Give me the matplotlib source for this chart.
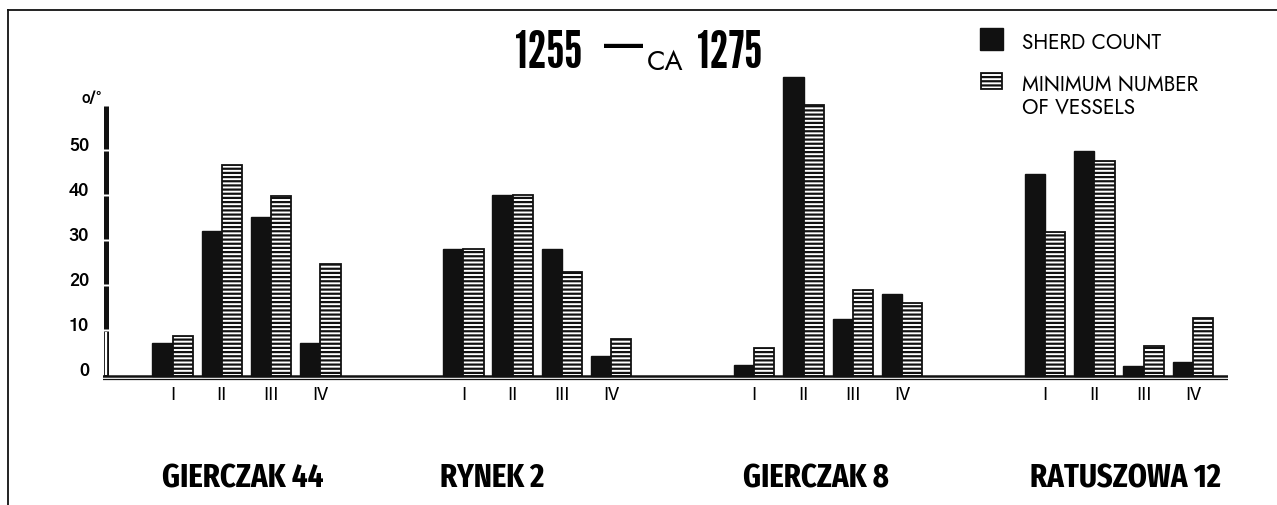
import matplotlib
matplotlib.use("Agg")
import matplotlib.pyplot as plt
import numpy as np
from matplotlib.lines import Line2D
from matplotlib.patches import Rectangle
from matplotlib.transforms import ScaledTranslation

# ---------------- data ----------------
sites = ["GIERCZAK 44", "RYNEK 2", "GIERCZAK 8", "RATUSZOWA 12"]
phases = ["I", "II", "III", "IV"]
# percentages, per site in the order of `phases`
sherd_count = [7.3, 32.3, 35.3, 7.3,      # Gierczak 44
               28.3, 40.3, 28.3, 4.4,     # Rynek 2
               2.4, 66.5, 12.6, 18.2,     # Gierczak 8
               45.0, 50.1, 2.2, 3.1]      # Ratuszowa 12
min_vessels = [9.0, 46.8, 40.1, 25.0,
               28.2, 40.3, 23.1, 8.3,
               6.2, 60.3, 19.1, 16.3,
               32.1, 47.8, 6.7, 12.8]
y_ticks = [0, 10, 20, 30, 40, 50]
title_from, title_ca, title_to = "1255", "CA", "1275"
legend_labels = ["SHERD COUNT", "MINIMUM NUMBER\nOF VESSELS"]
percent_sign = "o/°"

# ---------------- fonts ----------------
COND = ["League Gothic", "DejaVu Sans"]
COND2 = ["Fira Sans Extra Condensed", "DejaVu Sans"]
GEO = ["Jost", "DejaVu Sans"]
GOTH = ["Gothic A1", "DejaVu Sans"]

W, H = 1277, 505
fig = plt.figure(figsize=(W / 100, H / 100), dpi=100)

def fx(px):
    return px / W

def fy(py):
    return 1 - py / H

# axes placement (pixel layout)
ax_left, ax_right = 103, 1228
y0_px, px_per_unit = 376, 4.5
ymin, ymax = -1.5, 70
ax_bottom_px = y0_px + (-ymin) * px_per_unit
ax_height_px = (ymax - ymin) * px_per_unit
ax = fig.add_axes([fx(ax_left), 1 - ax_bottom_px / H, (ax_right - ax_left) / W, ax_height_px / H])

GROUP_STEP = 5.9
unit_px = 49.3
x0_px = 172.5
n_ph = len(phases)
centers = np.array([g * GROUP_STEP + c for g in range(len(sites)) for c in range(n_ph)])
ax.set_xlim((ax_left - x0_px) / unit_px, (ax_right - x0_px) / unit_px)
ax.set_ylim(ymin, ymax)

bw = 0.41
ax.bar(centers - bw / 2, sherd_count, width=bw, color="#111111", edgecolor="#111111",
       linewidth=1.0, zorder=3)
plt.rcParams["hatch.linewidth"] = 1.6
ax.bar(centers + bw / 2, min_vessels, width=bw, color="white", edgecolor="#111111",
       hatch="----", linewidth=1.3, zorder=3)

# baseline (double line)
ax.axhline(0, color="#111111", lw=1.8, zorder=4)
ax.axhline(-0.65, color="#111111", lw=0.9, zorder=4)

# y axis: thick segmented bar
xl = ax.get_xlim()[0] + 0.065
seg_bounds = y_ticks + [60]
for lo, hi in zip(seg_bounds[:-1], seg_bounds[1:]):
    if lo == 0:
        ax.vlines(xl, lo, hi, color="#111111", lw=3.6, zorder=5)
        ax.vlines(xl, lo + 0.3, hi - 0.3, color="white", lw=1.6, zorder=6)
    else:
        ax.vlines(xl, lo + 0.35, hi, color="#111111", lw=3.6, zorder=5, capstyle="butt")

for s in ax.spines.values():
    s.set_visible(False)

ax.set_yticks(y_ticks)
ax.set_yticklabels([str(t) for t in y_ticks], family=GOTH, fontweight=700, fontsize=12.5)
ax.tick_params(axis="y", length=0, pad=10)
for lab in ax.get_yticklabels():
    lab.set_transform(lab.get_transform() + ScaledTranslation(0, 7 / 100, fig.dpi_scale_trans))

ax.set_xticks(centers)
ax.set_xticklabels(phases * len(sites), family=GOTH, fontweight=500, fontsize=13)
ax.tick_params(axis="x", length=0, pad=2)

# percent sign above axis
fig.text(fx(81), fy(99), percent_sign, family=GOTH, fontweight=700, fontsize=10.5,
         va="center", ha="left")

# title
base = fy(68)
fig.text(fx(515), base, title_from, family=COND, fontsize=37.5, va="baseline", ha="left")
fig.text(fx(624), fy(50), "—", family=GOTH, fontweight=700, fontsize=28, va="center", ha="center")
fig.text(fx(647), fy(70), title_ca, family=GEO, fontsize=19.5, va="baseline", ha="left")
fig.text(fx(697), base, title_to, family=COND, fontsize=37.5, va="baseline", ha="left")

# legend
leg_patches = [
    Rectangle((fx(980), fy(50)), fx(23), 22 / H, transform=fig.transFigure,
              facecolor="#111111", edgecolor="#111111", lw=1.0),
    Rectangle((fx(981), fy(89)), fx(21), 16 / H, transform=fig.transFigure,
              facecolor="white", edgecolor="#111111", hatch="----", lw=1.3),
]
for p in leg_patches:
    fig.add_artist(p)
fig.text(fx(1022), fy(43), legend_labels[0], family=GEO, fontweight=500, fontsize=15,
         va="center", ha="left")
fig.text(fx(1022), fy(96), legend_labels[1], family=GEO, fontweight=500, fontsize=15,
         va="center", ha="left", linespacing=1.0)

# site labels
label_cx = [243, 492, 816, 1125]
for name, cx in zip(sites, label_cx):
    fig.text(fx(cx), fy(487), name, family=COND2, fontweight=700, fontsize=24,
             va="baseline", ha="center")

# frame lines
fig.add_artist(Line2D([fx(8), 1], [fy(10), fy(10)], transform=fig.transFigure, color="#111111", lw=1.3))
fig.add_artist(Line2D([fx(8), fx(8)], [fy(10), 0], transform=fig.transFigure, color="#111111", lw=1.3))

fig.savefig("out.png", dpi=100)
